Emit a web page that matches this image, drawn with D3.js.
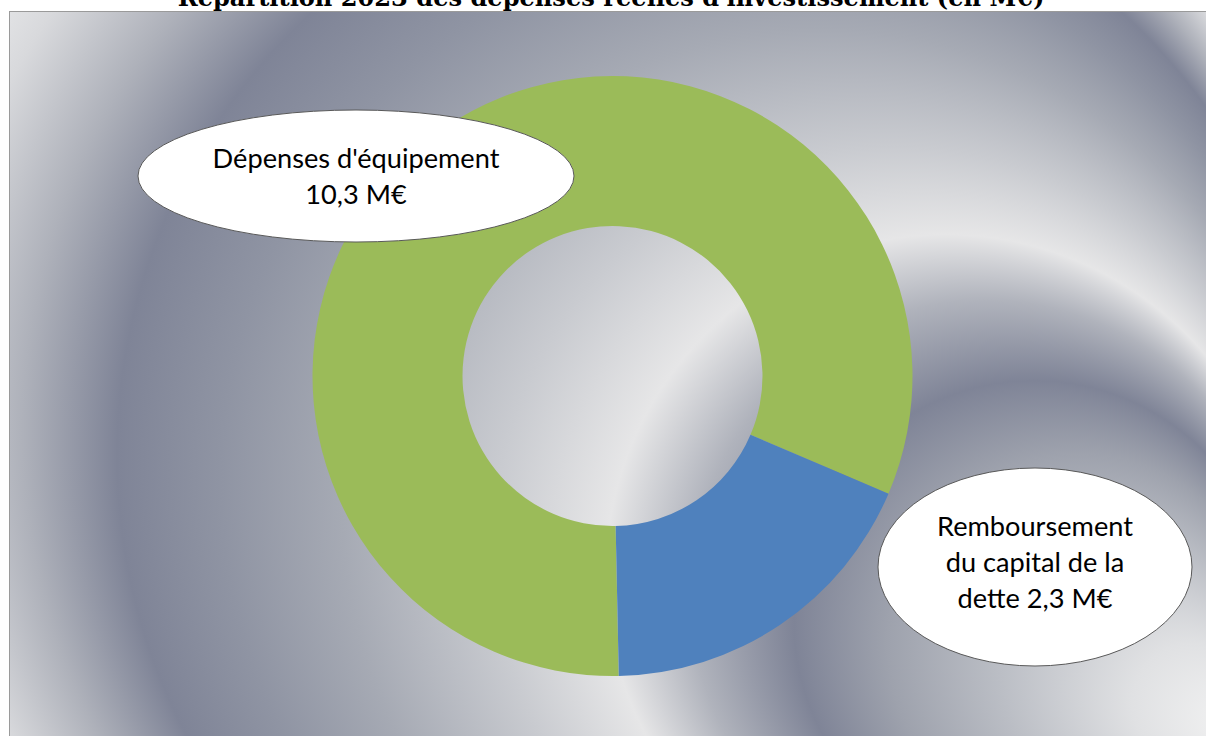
<!DOCTYPE html>
<html>
<head>
<meta charset="utf-8">
<script src="https://cdn.jsdelivr.net/npm/d3@7"></script>
<style>
  html, body { margin: 0; padding: 0; background: #ffffff; overflow: hidden; }
  svg { display: block; }
</style>
</head>
<body>
<svg id="chart" width="1206" height="736"></svg>
<script>
// ---- data ----
const categories = ["Dépenses d'équipement", "Remboursement du capital de la dette"];
const values = [10.3, 2.3];            // M€
const sliceColors = ["#9BBB59", "#4F81BD"];
const title = "Répartition 2023 des dépenses réelles d'investissement (en M€)";
const unit = "M€";

// ---- chrome-style background shading (radius from focus, colour) ----
const bgStopRadii  = [0, 60, 130, 190, 240, 295, 340, 400, 480, 545, 600, 650, 700, 720];
const bgStopColors = ["#f4f4f4", "#e0e1e3", "#bbbec5", "#9ea2ad", "#7f8497", "#b0b3bc",
                      "#e6e6e7", "#c9cbd0", "#a6aab4", "#8f94a3", "#7f8497", "#aeb1ba",
                      "#d8d9dc", "#e2e3e5"];

// ---- layout ----
const W = 1206, H = 736;
const chartArea = { x: 9.5, y: 11.5, w: 1240, h: 770 };
const bg = { fx: 1245, fy: 731, dx: -0.88, dy: -0.46, r: 720 };
const donut = { cx: 612.5, cy: 376, inner: 150, outer: 300, startDeg: 178.8 };
const fmt = d3.formatLocale({ decimal: ",", thousands: " ", grouping: [3], currency: ["", " €"] }).format(".1f");

const svg = d3.select("#chart");
const defs = svg.append("defs");

const grad = defs.append("radialGradient")
  .attr("id", "areaShade")
  .attr("gradientUnits", "userSpaceOnUse")
  .attr("fx", bg.fx).attr("fy", bg.fy)
  .attr("cx", bg.fx + bg.dx * bg.r).attr("cy", bg.fy + bg.dy * bg.r)
  .attr("r", bg.r);
grad.selectAll("stop")
  .data(bgStopRadii.map((r, i) => ({ off: r / bg.r, col: bgStopColors[i] })))
  .join("stop")
  .attr("offset", d => d.off)
  .attr("stop-color", d => d.col);

// chart area
svg.append("rect")
  .attr("x", chartArea.x).attr("y", chartArea.y)
  .attr("width", chartArea.w).attr("height", chartArea.h)
  .attr("fill", "url(#areaShade)")
  .attr("stroke", "#9a9a9a")
  .attr("stroke-width", 1);

// helper: font size that makes a string a given width
function fitSize(family, weight, text, target) {
  const t = svg.append("text")
    .attr("font-family", family).attr("font-weight", weight)
    .attr("font-size", 100).text(text);
  const w = t.node().getComputedTextLength();
  t.remove();
  return 100 * target / w;
}

// title (partly above the top edge)
const titleFont = "'DejaVu Serif', 'Liberation Serif', serif";
svg.append("text")
  .attr("x", 611).attr("y", 5.5)
  .attr("text-anchor", "middle")
  .attr("font-family", titleFont)
  .attr("font-weight", "bold")
  .attr("font-size", fitSize(titleFont, "bold", title, 867))
  .attr("fill", "#000")
  .text(title);

// donut
const pie = d3.pie().sort(null).value(d => d)
  .startAngle(donut.startDeg * Math.PI / 180)
  .endAngle(donut.startDeg * Math.PI / 180 + 2 * Math.PI);
const arc = d3.arc().innerRadius(donut.inner).outerRadius(donut.outer);

svg.append("g")
  .attr("transform", `translate(${donut.cx},${donut.cy})`)
  .selectAll("path")
  .data(pie(values))
  .join("path")
  .attr("d", arc)
  .attr("fill", (d, i) => sliceColors[i]);

// callout labels
const labelFont = "Lato, 'Open Sans', sans-serif";
const labelSize = fitSize(labelFont, "normal", "Remboursement", 196);
const callouts = [
  { cx: 356, cy: 176, rx: 218, ry: 66, lines: [categories[0], `${fmt(values[0])} ${unit}`], firstBaseline: 168 },
  { cx: 1035, cy: 567, rx: 157, ry: 99, lines: ["Remboursement", "du capital de la", `dette ${fmt(values[1])} ${unit}`], firstBaseline: 536 }
];
const lineGap = 36;

const cg = svg.append("g").selectAll("g").data(callouts).join("g");
cg.append("ellipse")
  .attr("cx", d => d.cx).attr("cy", d => d.cy)
  .attr("rx", d => d.rx).attr("ry", d => d.ry)
  .attr("fill", "#ffffff")
  .attr("stroke", "#595959")
  .attr("stroke-width", 1);
cg.each(function (d) {
  d3.select(this).selectAll("text")
    .data(d.lines)
    .join("text")
    .attr("x", d.cx)
    .attr("y", (l, i) => d.firstBaseline + i * lineGap)
    .attr("text-anchor", "middle")
    .attr("font-family", labelFont)
    .attr("font-size", labelSize)
    .attr("fill", "#000")
    .text(l => l);
});
</script>
</body>
</html>
